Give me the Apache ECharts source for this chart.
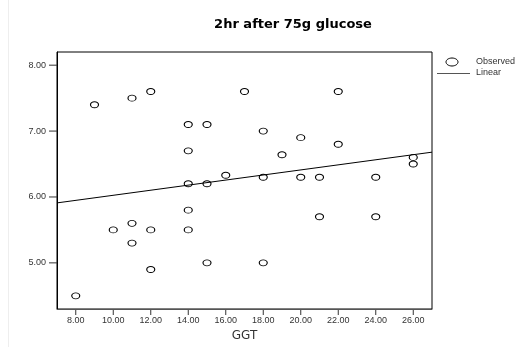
<!DOCTYPE html>
<html lang="en">
<head>
    <meta charset="UTF-8">
    <title>2hr after 75g glucose</title>
    <script src="https://cdn.jsdelivr.net/npm/echarts@6/dist/echarts.min.js"></script>
    <style>
        *{margin:0;padding:0;}
        html,body{width:529px;height:347px;background:#fff;overflow:hidden;}
        #chart{width:529px;height:347px;}
    </style>
</head>
<body>
    <div id="chart"></div>
    <script>
        // GGT vs 2hr glucose
        var ggt=[8,9,10,11,11,11,12,12,12,14,14,14,14,14,15,15,15,16,17,18,18,18,19,20,20,21,21,22,22,24,24,26,26];
        var glucose=[4.5,7.4,5.5,7.5,5.6,5.3,7.6,5.5,4.9,7.1,6.7,6.2,5.8,5.5,7.1,6.2,5.0,6.33,7.6,7.0,6.3,5.0,6.64,6.9,6.3,6.3,5.7,7.6,6.8,6.3,5.7,6.6,6.5];
        // ends of the linear fit line
        var fitX=[7,27];
        var fitY=[5.91,6.68];

        var points=ggt.map(function(x,i){return [x,glucose[i]]});
        var fitLine=fitX.map(function(x,i){return [x,fitY[i]]});

        var myChart=echarts.init(document.getElementById("chart"));
        var option={
            animation:false,
            title:{
                text:"2hr after 75g glucose",
                left:288,top:13,textAlign:"center",
                textStyle:{fontFamily:"DejaVu Sans",fontSize:13,fontWeight:"bold",color:"#000"}
            },
            grid:{left:57,top:52,right:97,bottom:35,show:true,borderColor:"#000",borderWidth:1},
            xAxis:{
                type:"value",min:7,max:27,
                name:"GGT",nameLocation:"middle",nameGap:21,
                nameTextStyle:{fontFamily:"DejaVu Sans",fontSize:12,color:"#333"},
                axisLine:{onZero:false,lineStyle:{color:"#555"}},
                axisTick:{show:false},
                splitLine:{show:false},
                axisLabel:{show:false}
            },
            yAxis:{
                type:"value",min:4.3,max:8.2,
                axisLine:{onZero:false,lineStyle:{color:"#000"}},
                axisTick:{show:false},
                splitLine:{show:false},
                axisLabel:{show:false}
            },
            series:[
                {
                    type:"scatter",
                    data:points,
                    symbol:"circle",
                    symbolSize:[8,6],
                    itemStyle:{color:"#fff",borderColor:"#000",borderWidth:1,opacity:1}
                },
                {
                    type:"line",
                    data:fitLine,
                    symbol:"none",
                    lineStyle:{color:"#000",width:1}
                }
            ]
        };
        myChart.setOption(option);

        // ticks and labels sit outside the frame, like the SPSS plot
        var xTicks=[8,10,12,14,16,18,20,22,24,26];
        var yTicks=[5,6,7,8];
        var g=[];
        xTicks.forEach(function(v){
            var p=myChart.convertToPixel({gridIndex:0},[v,4.3]);
            g.push({type:"line",shape:{x1:p[0],y1:p[1],x2:p[0],y2:p[1]+6},style:{stroke:"#333",lineWidth:1}});
            g.push({type:"text",x:p[0],y:p[1]+7,style:{text:v.toFixed(2),font:"9px Liberation Sans",fill:"#333",align:"center",verticalAlign:"top"}});
        });
        yTicks.forEach(function(v){
            var p=myChart.convertToPixel({gridIndex:0},[7,v]);
            g.push({type:"line",shape:{x1:p[0]-8,y1:p[1],x2:p[0],y2:p[1]},style:{stroke:"#333",lineWidth:1}});
            g.push({type:"text",x:p[0]-11,y:p[1],style:{text:v.toFixed(2),font:"9px Liberation Sans",fill:"#333",align:"right",verticalAlign:"middle"}});
        });
        // legend
        g.push({type:"ellipse",shape:{cx:452,cy:62,rx:6,ry:4},style:{fill:"#fff",stroke:"#000",lineWidth:1}});
        g.push({type:"text",x:476,y:62,style:{text:"Observed",font:"9px Liberation Sans",fill:"#333",verticalAlign:"middle"}});
        g.push({type:"line",shape:{x1:437,y1:73.5,x2:470,y2:73.5},style:{stroke:"#555",lineWidth:1}});
        g.push({type:"text",x:476,y:73,style:{text:"Linear",font:"9px Liberation Sans",fill:"#333",verticalAlign:"middle"}});
        // faint frame line at the left edge
        g.push({type:"line",shape:{x1:8.5,y1:0,x2:8.5,y2:347},style:{stroke:"#eee",lineWidth:1}});
        myChart.setOption({graphic:g});
    </script>
</body>
</html>
